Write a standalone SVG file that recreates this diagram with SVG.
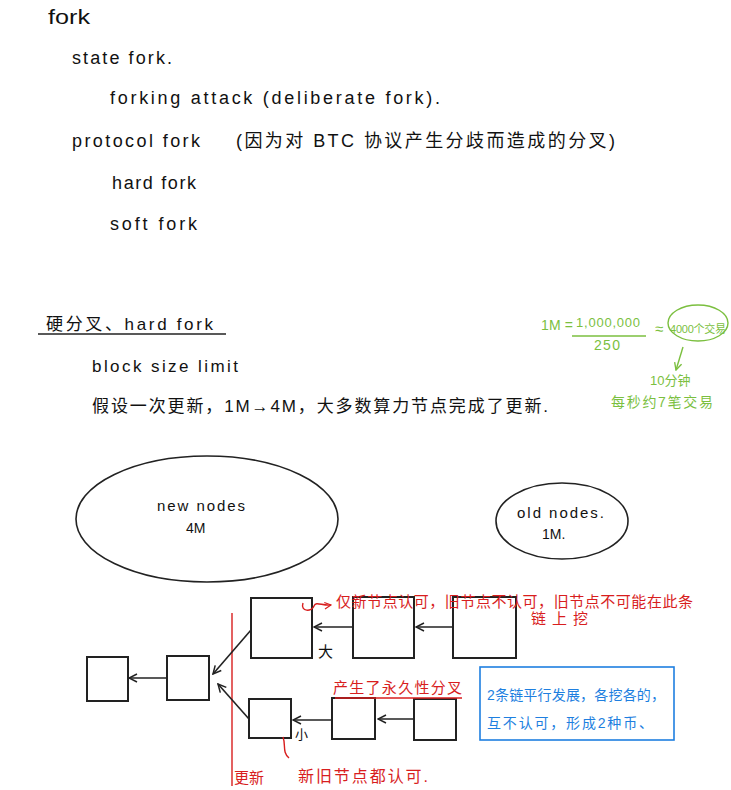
<svg xmlns="http://www.w3.org/2000/svg" width="731" height="790" viewBox="0 0 731 790">
<defs>
<style>
.t{font-family:"Liberation Sans","Noto Sans CJK SC",sans-serif;fill:#111}
.r{font-family:"Liberation Sans","Noto Sans CJK SC",sans-serif;fill:#d81e1e}
.g{font-family:"Liberation Sans","Noto Sans CJK SC",sans-serif;fill:#7bbf3f}
.b{font-family:"Liberation Sans","Noto Sans CJK SC",sans-serif;fill:#1e7fe0}
.box{fill:#fff;stroke:#222;stroke-width:2}
.edge{fill:none;stroke:#222;stroke-width:1.6;marker-end:url(#ah)}
</style>
<marker id="ah" viewBox="0 0 10 10" refX="9" refY="5" markerWidth="10" markerHeight="10" markerUnits="userSpaceOnUse" orient="auto">
<path d="M1,1 L9,5 L1,9" fill="none" stroke="#222" stroke-width="1.5"/>
</marker>
<marker id="ahr" viewBox="0 0 10 10" refX="9" refY="5" markerWidth="8" markerHeight="8" markerUnits="userSpaceOnUse" orient="auto">
<path d="M1,1 L9,5 L1,9" fill="none" stroke="#d81e1e" stroke-width="1.5"/>
</marker>
<marker id="ahg" viewBox="0 0 10 10" refX="9" refY="5" markerWidth="9" markerHeight="9" markerUnits="userSpaceOnUse" orient="auto">
<path d="M1,1 L9,5 L1,9" fill="none" stroke="#7bbf3f" stroke-width="1.5"/>
</marker>
</defs>
<rect width="731" height="790" fill="#fff"/>

<g id="outline">
<text class="t" x="48" y="24" font-size="20" textLength="42" lengthAdjust="spacingAndGlyphs">fork</text>
<text class="t" x="72" y="64" font-size="18" textLength="100" lengthAdjust="spacing">state fork.</text>
<text class="t" x="110" y="104" font-size="18" textLength="330" lengthAdjust="spacing">forking attack (deliberate fork).</text>
<text class="t" x="72" y="147" font-size="18" textLength="128" lengthAdjust="spacing">protocol fork</text>
<text class="t" x="236" y="147" font-size="18" textLength="379" lengthAdjust="spacing">(因为对 BTC 协议产生分歧而造成的分叉)</text>
<text class="t" x="112" y="189" font-size="18" textLength="84" lengthAdjust="spacing">hard fork</text>
<text class="t" x="110" y="230" font-size="18" textLength="87" lengthAdjust="spacing">soft fork</text>
<text class="t" x="46" y="330" font-size="17" textLength="167" lengthAdjust="spacing">硬分叉、hard fork</text>
<line x1="38" y1="334" x2="226" y2="334" stroke="#222" stroke-width="1.6"/>
<text class="t" x="92" y="372" font-size="17" textLength="146" lengthAdjust="spacing">block size limit</text>
<text class="t" x="92" y="412" font-size="17" textLength="456" lengthAdjust="spacing">假设一次更新，1M→4M，大多数算力节点完成了更新.</text>
</g>

<g id="green-note">
<text class="g" x="541" y="330" font-size="14" textLength="32" lengthAdjust="spacing">1M =</text>
<text class="g" x="576" y="327" font-size="13" textLength="64" lengthAdjust="spacing">1,000,000</text>
<line x1="572" y1="336" x2="646" y2="336" stroke="#7bbf3f" stroke-width="1.4"/>
<text class="g" x="594" y="350" font-size="14" textLength="26" lengthAdjust="spacing">250</text>
<text class="g" x="655" y="334" font-size="15">≈</text>
<ellipse cx="698" cy="323" rx="30" ry="18" fill="none" stroke="#7bbf3f" stroke-width="1.4"/>
<text class="g" x="670" y="333" font-size="11" textLength="56" lengthAdjust="spacing">4000个交易</text>
<path d="M683,347 L676,370" fill="none" stroke="#7bbf3f" stroke-width="1.4" marker-end="url(#ahg)"/>
<text class="g" x="650" y="385" font-size="13">10分钟</text>
<text class="g" x="611" y="407" font-size="14" textLength="102" lengthAdjust="spacing">每秒约7笔交易</text>
</g>

<g id="new-nodes">
<ellipse cx="207" cy="519" rx="131" ry="63" fill="none" stroke="#222" stroke-width="1.6"/>
<text class="t" x="157" y="511" font-size="15" textLength="88" lengthAdjust="spacing">new nodes</text>
<text class="t" x="186" y="533" font-size="14">4M</text>
</g>

<g id="old-nodes">
<ellipse cx="562" cy="521" rx="66" ry="38" fill="none" stroke="#222" stroke-width="1.6"/>
<text class="t" x="517" y="518" font-size="15" textLength="87" lengthAdjust="spacing">old nodes.</text>
<text class="t" x="542" y="539" font-size="14">1M.</text>
</g>

<g id="update-line">
<line x1="232" y1="613" x2="232" y2="786" stroke="#d81e1e" stroke-width="1.4"/>
<text class="r" x="234" y="783" font-size="15">更新</text>
</g>

<g id="connectors">
<line class="edge" x1="353" y1="627" x2="314" y2="627"/>
<line class="edge" x1="453" y1="627" x2="416" y2="627"/>
<line class="edge" x1="251" y1="630" x2="213" y2="674"/>
<line class="edge" x1="167" y1="678" x2="129" y2="678"/>
<line class="edge" x1="249" y1="719" x2="218" y2="684"/>
<line class="edge" x1="332" y1="720" x2="293" y2="720"/>
<line class="edge" x1="414" y1="719" x2="378" y2="719"/>
</g>

<g id="blockA"><rect class="box" x="87" y="657" width="41" height="44"/></g>
<g id="blockB"><rect class="box" x="167" y="656" width="42" height="44"/></g>
<g id="blockBig1"><rect class="box" x="251" y="598" width="61" height="60"/><text class="t" x="318" y="657" font-size="15">大</text></g>
<g id="blockBig2"><rect class="box" x="353" y="597" width="61" height="61"/></g>
<g id="blockBig3"><rect class="box" x="453" y="597" width="63" height="61"/></g>
<g id="blockSmall1"><rect class="box" x="249" y="699" width="42" height="39"/><text class="t" x="295" y="739" font-size="13">小</text></g>
<g id="blockSmall2"><rect class="box" x="332" y="698" width="43" height="41"/></g>
<g id="blockSmall3"><rect class="box" x="414" y="699" width="42" height="41"/></g>

<g id="red-notes">
<path d="M303,603 C300,612 312,612 314,606 C316,601 322,606 331,605" fill="none" stroke="#d81e1e" stroke-width="1.4" marker-end="url(#ahr)"/>
<text class="r" x="336" y="607" font-size="15" textLength="357" lengthAdjust="spacing">仅新节点认可，旧节点不认可，旧节点不可能在此条</text>
<text class="r" x="531" y="624" font-size="15" textLength="57" lengthAdjust="spacing">链上挖</text>
<text class="r" x="333" y="693" font-size="15" textLength="129" lengthAdjust="spacing">产生了永久性分叉</text>
<line x1="335" y1="698" x2="462" y2="698" stroke="#d81e1e" stroke-width="1.4"/>
<path d="M283,737 C286,745 282,752 289,758" fill="none" stroke="#d81e1e" stroke-width="1.4"/>
<text class="r" x="298" y="782" font-size="16" textLength="130" lengthAdjust="spacing">新旧节点都认可.</text>
</g>

<g id="blue-note">
<rect x="480" y="667" width="194" height="73" fill="none" stroke="#1e7fe0" stroke-width="1.6"/>
<text class="b" x="487" y="700" font-size="14" textLength="178" lengthAdjust="spacing">2条链平行发展，各挖各的，</text>
<text class="b" x="487" y="728" font-size="14" textLength="166" lengthAdjust="spacing">互不认可，形成2种币、</text>
</g>
</svg>
